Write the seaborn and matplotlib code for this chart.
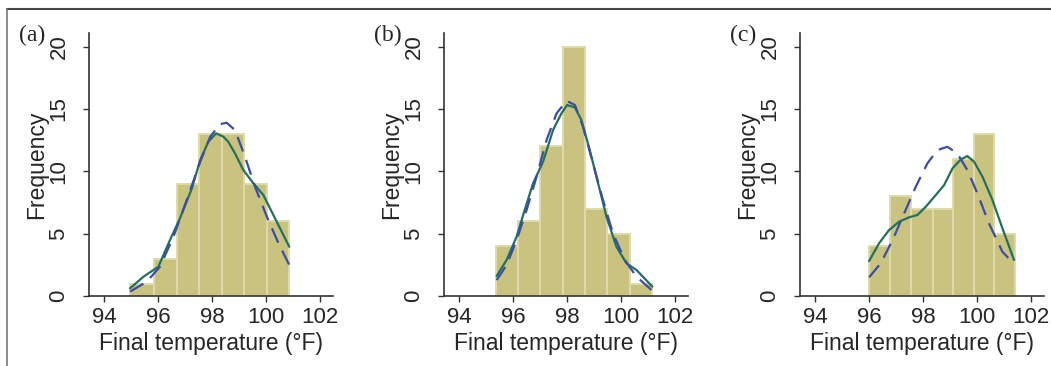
import numpy as np
import pandas as pd
import matplotlib
matplotlib.use('Agg')
import matplotlib.pyplot as plt
import seaborn as sns
from matplotlib.lines import Line2D

# ========== DATA ==========
panel_labels = ['(a)', '(b)', '(c)']

edges_a = [94.96, 95.83, 96.69, 97.53, 98.36, 99.20, 100.03, 100.86]
counts_a = [1, 3, 9, 13, 13, 9, 6]
edges_b = [95.38, 96.18, 97.01, 97.85, 98.68, 99.49, 100.32, 101.14]
counts_b = [4, 6, 12, 20, 7, 5, 1]
edges_c = [96.00, 96.78, 97.57, 98.35, 99.11, 99.89, 100.63, 101.40]
counts_c = [4, 8, 7, 7, 11, 13, 5]

# kernel density (solid green), scaled to frequency
kde_x_a = [94.96, 95.46, 96.01, 96.44, 96.81, 97.25, 97.56, 97.86, 98.15, 98.42,
           98.60, 98.85, 99.16, 99.53, 99.90, 100.27, 100.86]
kde_y_a = [0.62, 1.55, 2.35, 4.49, 6.23, 8.63, 10.9, 12.37, 13.05, 12.78,
           12.37, 11.44, 10.1, 9.04, 8.1, 6.5, 3.95]
kde_x_b = [95.39, 95.76, 96.13, 96.43, 96.74, 97.11, 97.48, 97.79, 98.00, 98.29,
           98.53, 98.84, 99.15, 99.46, 99.83, 100.20, 100.57, 101.16]
kde_y_b = [1.60, 2.89, 4.76, 6.9, 9.04, 10.77, 13.31, 14.65, 15.32, 15.13,
           14.11, 11.71, 9.04, 6.36, 3.95, 2.62, 2.09, 0.75]
kde_x_c = [96.00, 96.37, 96.74, 97.11, 97.48, 97.79, 98.10, 98.47, 98.78, 99.09,
           99.40, 99.64, 99.89, 100.20, 100.57, 100.94, 101.37]
kde_y_c = [2.81, 4.23, 5.29, 5.96, 6.31, 6.5, 7.16, 8.1, 8.9, 10.24,
           10.96, 11.23, 10.77, 9.57, 7.7, 5.43, 2.89]

# normal fit (dashed blue), scaled to frequency
norm_x_a = [94.96, 95.58, 96.07, 96.57, 97.06, 97.56, 97.93, 98.30, 98.54, 98.85,
            99.22, 99.59, 100.03, 100.46, 100.86]
norm_y_a = [0.35, 1.15, 2.35, 4.76, 7.7, 10.77, 12.78, 13.79, 13.9, 13.31,
            11.17, 8.77, 6.36, 4.23, 2.49]
norm_x_b = [95.39, 95.76, 96.13, 96.50, 96.87, 97.24, 97.61, 97.98, 98.29, 98.59,
            98.96, 99.33, 99.70, 100.14, 100.57, 101.13]
norm_y_b = [1.28, 2.49, 4.49, 6.9, 9.57, 12.51, 14.65, 15.66, 15.32, 13.58,
            10.64, 7.7, 5.03, 2.89, 1.55, 0.48]
norm_x_c = [96.00, 96.43, 96.87, 97.30, 97.73, 98.16, 98.53, 98.90, 99.27, 99.64,
            100.01, 100.44, 100.94, 101.37]
norm_y_c = [1.5, 2.62, 4.49, 6.63, 8.77, 10.64, 11.71, 11.97, 11.44, 10.1,
            8.24, 5.83, 3.55, 2.57]

x_ticks = [94, 96, 98, 100, 102]
y_ticks = [0, 5, 10, 15, 20]

panels = [
    (edges_a, counts_a, kde_x_a, kde_y_a, norm_x_a, norm_y_a),
    (edges_b, counts_b, kde_x_b, kde_y_b, norm_x_b, norm_y_b),
    (edges_c, counts_c, kde_x_c, kde_y_c, norm_x_c, norm_y_c),
]

# ========== STYLE ==========
sns.set_style('white')
plt.rcParams['font.family'] = ['Liberation Sans', 'DejaVu Sans']

BAR = '#c9c37f'
BAR_EDGE = '#dedaaa'
GREEN = '#23705f'
BLUE = '#3a4fa3'
AXIS = '#333333'

fig = plt.figure(figsize=(10.51, 3.66), dpi=100)
W, H = 1051, 366
lefts = [89, 444, 800]
ax_w = 244
ax_bottom, ax_top = 296, 33

for i, (edges, counts, kx, ky, nx, ny) in enumerate(panels):
    ax = fig.add_axes([lefts[i] / W, (H - ax_bottom) / H, ax_w / W, (ax_bottom - ax_top) / H])
    centers = [(edges[j] + edges[j + 1]) / 2 for j in range(len(counts))]
    sns.histplot(x=centers, weights=counts, bins=edges, ax=ax, stat='count',
                 color=BAR, edgecolor=BAR_EDGE, linewidth=1.4, alpha=1)
    sns.lineplot(x=kx, y=ky, ax=ax, color=GREEN, linewidth=1.6, sort=False)
    sns.lineplot(x=nx, y=ny, ax=ax, color=BLUE, linewidth=1.6, sort=False,
                 linestyle=(0, (7, 4)))
    ax.set_xlim(93.44, 102.48)
    ax.set_ylim(0, 21.1)
    ax.set_xticks(x_ticks)
    ax.set_yticks(y_ticks)
    ax.tick_params(axis='both', direction='out', length=4, width=1, color=AXIS,
                   labelsize=16, bottom=True, left=True)
    ax.tick_params(axis='x', pad=4)
    ax.tick_params(axis='y', pad=10)
    for lab in ax.get_yticklabels():
        lab.set_rotation(90)
        lab.set_va('center')
    ax.set_xlabel('Final temperature (°F)', fontsize=16.5, labelpad=3)
    ax.set_ylabel('Frequency', fontsize=16.5, labelpad=0)
    sns.despine(ax=ax)
    for side in ['left', 'bottom']:
        ax.spines[side].set_color(AXIS)
        ax.spines[side].set_linewidth(1.2)
    fig.text((lefts[i] - 70) / W, 1 - 35 / H, panel_labels[i], family='Liberation Serif',
             fontsize=17, va='center', ha='left')

# frame lines of the original figure
fig.add_artist(Line2D([7 / W, 1], [1 - 9 / H, 1 - 9 / H], color='#444444', linewidth=1.5))
fig.add_artist(Line2D([7 / W, 7 / W], [0, 1 - 9 / H], color='#777777', linewidth=1.2))

plt.savefig('out.png', dpi=100)
